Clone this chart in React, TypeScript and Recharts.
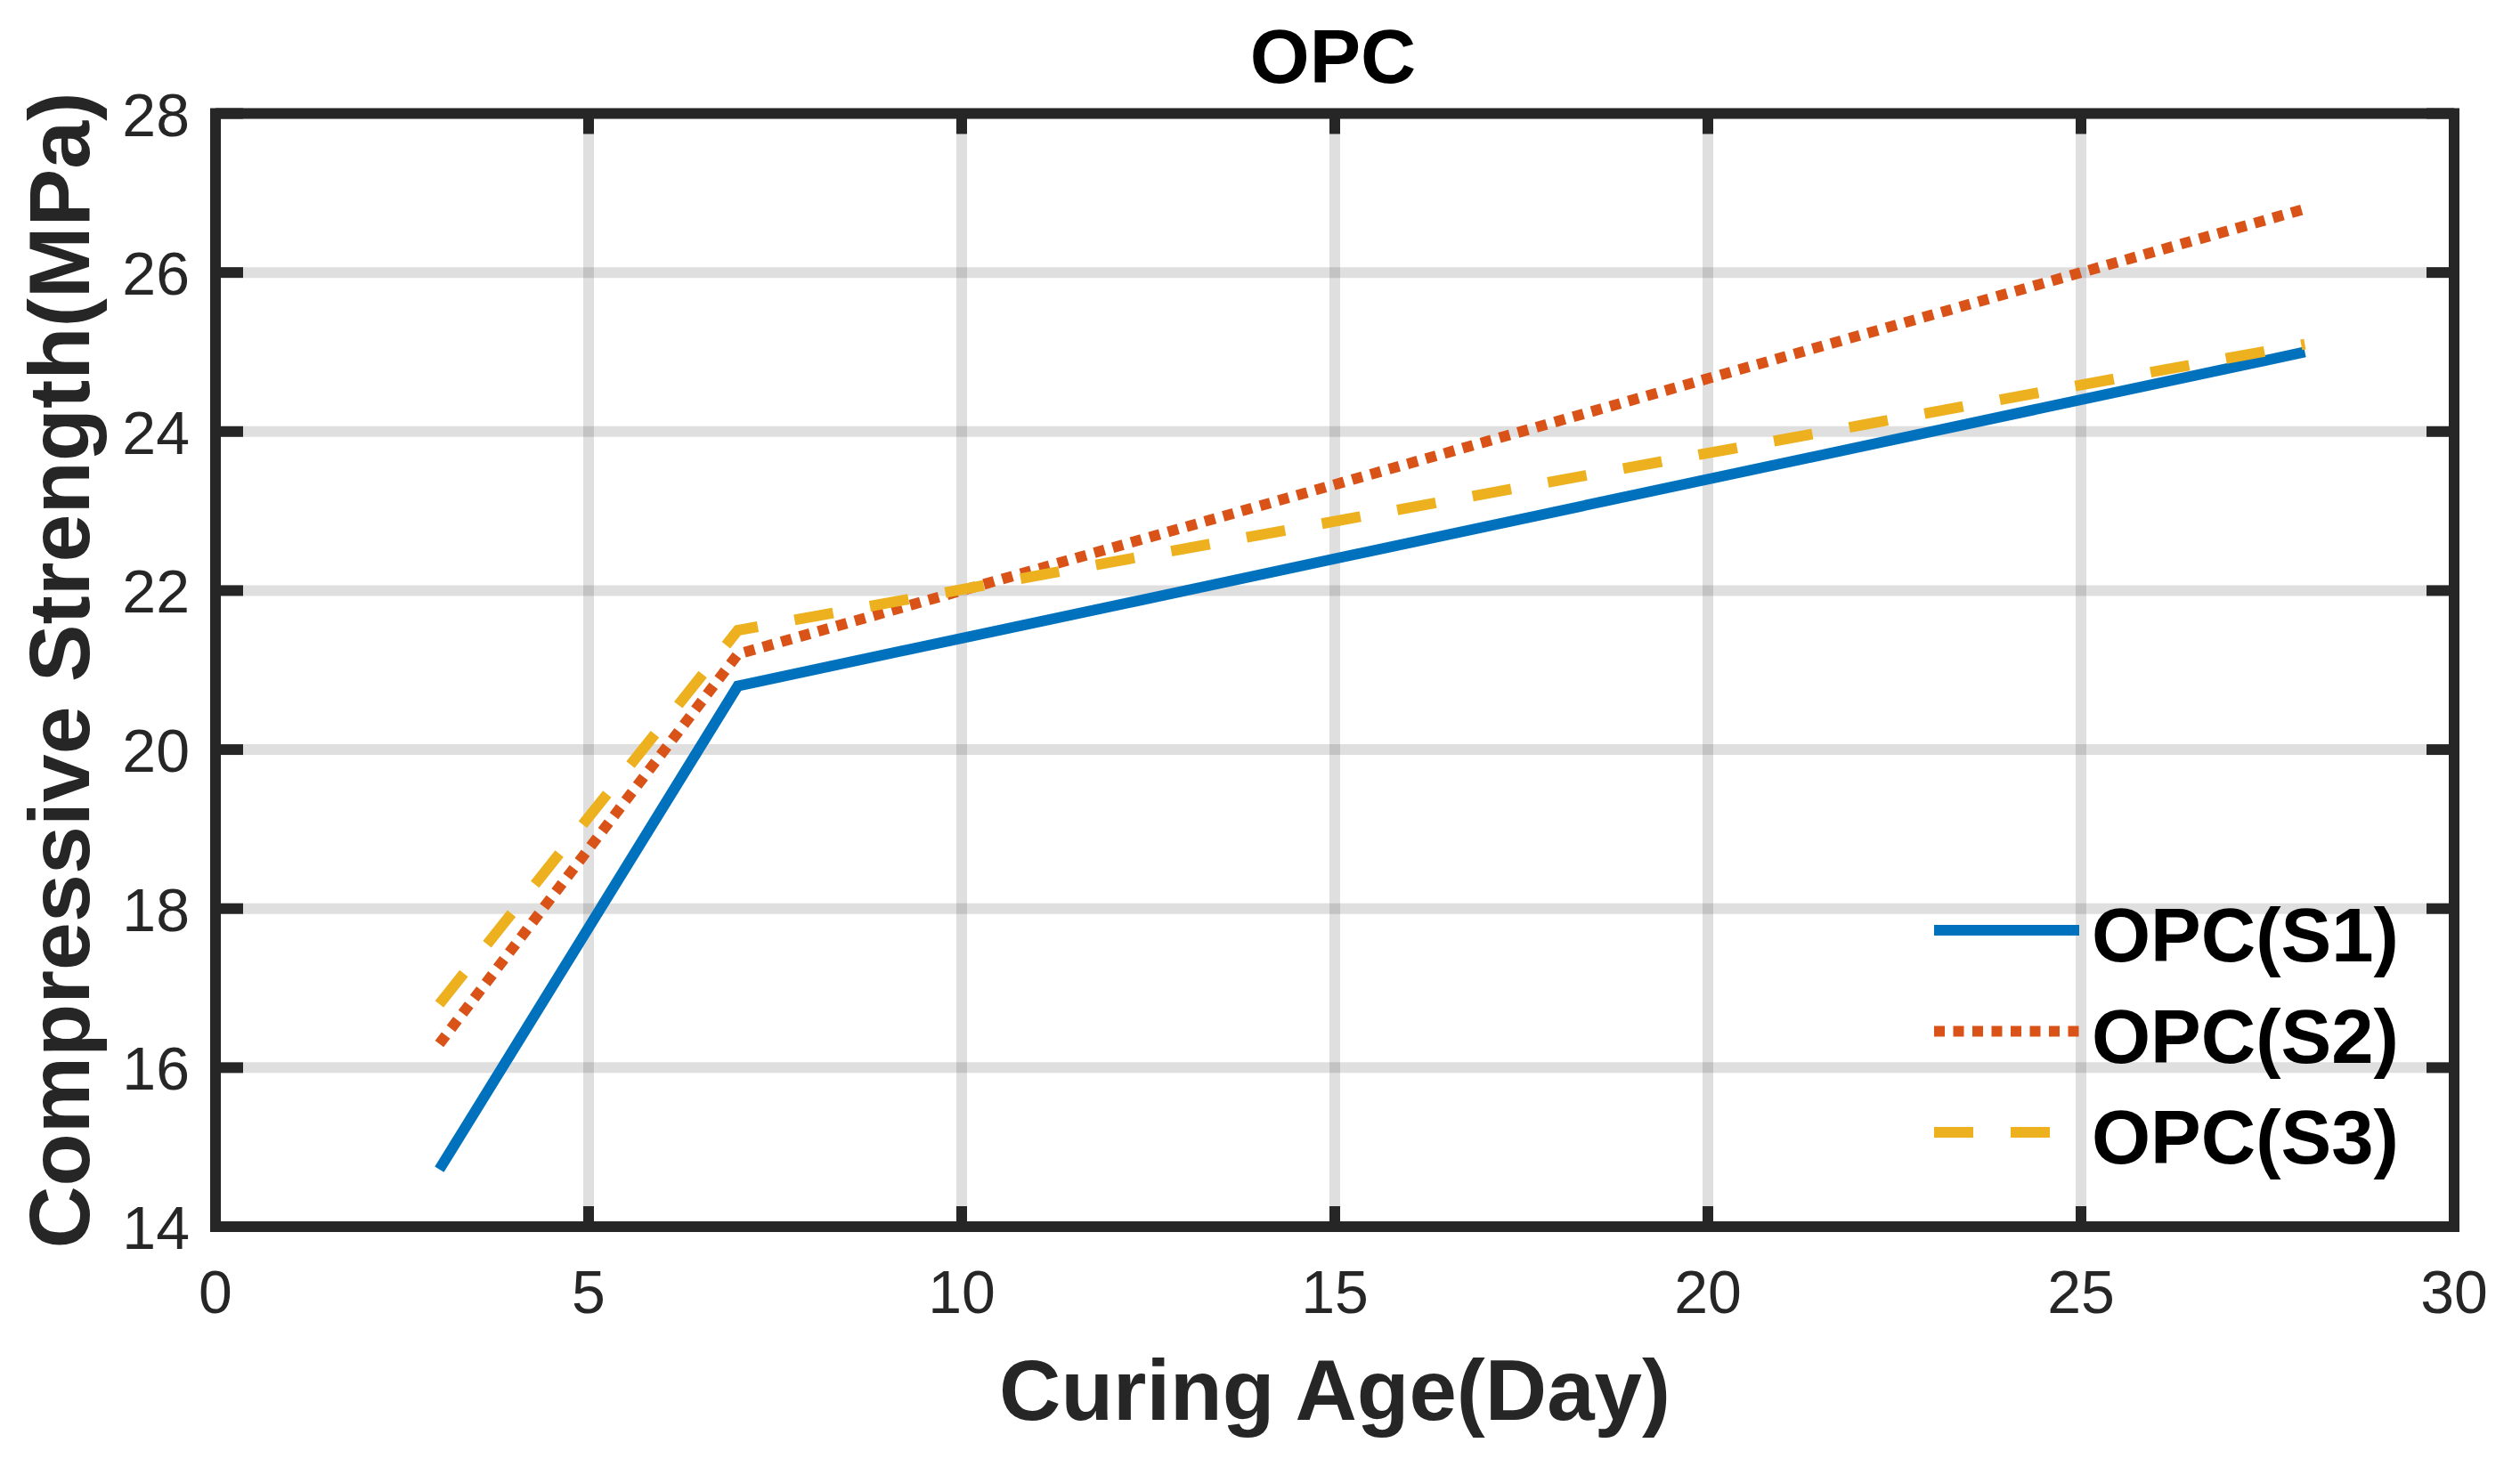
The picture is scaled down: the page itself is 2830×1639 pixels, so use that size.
import React from 'react';
import {
  LineChart,
  Line,
  XAxis,
  YAxis,
  CartesianGrid,
  ReferenceArea,
  Legend,
} from 'recharts';

// ---------- data ----------
const days = [3, 7, 28];
const s1Values = [14.72, 20.8, 25.0];
const s2Values = [16.3, 21.2, 26.8];
const s3Values = [16.8, 21.5, 25.1];

const seriesKeys = ['s1', 's2', 's3'];
const seriesNames = ['OPC(S1)', 'OPC(S2)', 'OPC(S3)'];
const seriesColors = ['#0072BD', '#D95319', '#EDB120'];
const seriesDash = [undefined, '12 9.5', '44 42'];

const xTicks = [0, 5, 10, 15, 20, 25, 30];
const yTicks = [14, 16, 18, 20, 22, 24, 26, 28];
const xDomain = [0, 30];
const yDomain = [14, 28];

const chartTitle = 'OPC';
const xLabel = 'Curing Age(Day)';
const yLabel = 'Compressive Strength(MPa)';

const data = days.map((d, i) => ({
  day: d,
  s1: s1Values[i],
  s2: s2Values[i],
  s3: s3Values[i],
}));

// ---------- layout / style ----------
const W = 2830;
const H = 1639;
const PLOT_LEFT = 242;
const PLOT_RIGHT = 2756;
const PLOT_TOP = 127.5;
const PLOT_BOTTOM = 1378;
const Y_AXIS_W = 100;
const X_AXIS_H = 100;
const AXIS_COLOR = '#262626';
const FONT = "'Liberation Sans', Arial, Helvetica, sans-serif";
const X_TICK_LEN = 23;
const Y_TICK_LEN = 31;

const XTick = (props: any) => {
  const { x, y, payload } = props;
  return (
    <g>
      <line x1={x} y1={y} x2={x} y2={y - X_TICK_LEN} stroke={AXIS_COLOR} strokeWidth={12} />
      <line x1={x} y1={PLOT_TOP} x2={x} y2={PLOT_TOP + X_TICK_LEN} stroke={AXIS_COLOR} strokeWidth={12} />
      <text x={x} y={y + 97} textAnchor="middle" fontSize={68} fill={AXIS_COLOR} fontFamily={FONT}>
        {payload.value}
      </text>
    </g>
  );
};

const YTick = (props: any) => {
  const { x, y, payload } = props;
  return (
    <g>
      <line x1={x} y1={y} x2={x + Y_TICK_LEN} y2={y} stroke={AXIS_COLOR} strokeWidth={12} />
      <line x1={PLOT_RIGHT} y1={y} x2={PLOT_RIGHT - Y_TICK_LEN} y2={y} stroke={AXIS_COLOR} strokeWidth={12} />
      <text x={x - 29} y={y + 25} textAnchor="end" fontSize={68} fill={AXIS_COLOR} fontFamily={FONT}>
        {payload.value}
      </text>
    </g>
  );
};

const LEG_LEFT = 2160;
const LEG_TOP = 990;

const renderLegend = (props: any) => {
  const items = (props && props.payload) || [];
  return (
    <svg width={640} height={330} style={{ overflow: 'visible', display: 'block' }}>
      {items.map((it: any, i: number) => {
        const idx = Math.max(0, seriesKeys.indexOf(it.dataKey));
        const ly = 55 + i * 113.5;
        return (
          <g key={i}>
            <line
              x1={12}
              y1={ly}
              x2={175}
              y2={ly}
              stroke={it.color || seriesColors[idx]}
              strokeWidth={12}
              strokeDasharray={seriesDash[idx]}
            />
            <text x={189} y={ly + 35} fontSize={85} fontWeight="bold" fill="#000" fontFamily={FONT}>
              {it.value || seriesNames[idx]}
            </text>
          </g>
        );
      })}
    </svg>
  );
};

export default function App() {
  return (
    <div style={{ position: 'absolute', left: 0, top: 0, width: W, height: H, background: '#fff' }}>
      <LineChart
        width={W}
        height={H}
        data={data}
        margin={{
          left: PLOT_LEFT - Y_AXIS_W,
          right: W - PLOT_RIGHT,
          top: PLOT_TOP,
          bottom: H - PLOT_BOTTOM - X_AXIS_H,
        }}
      >
        <CartesianGrid stroke="#000" strokeOpacity={0.125} strokeWidth={12} />
        <XAxis
          dataKey="day"
          type="number"
          domain={xDomain}
          ticks={xTicks}
          interval={0}
          height={X_AXIS_H}
          axisLine={false}
          tickLine={false}
          tickSize={0}
          tickMargin={0}
          tick={<XTick />}
        />
        <YAxis
          type="number"
          domain={yDomain}
          ticks={yTicks}
          interval={0}
          width={Y_AXIS_W}
          axisLine={false}
          tickLine={false}
          tickSize={0}
          tickMargin={0}
          tick={<YTick />}
        />
        <ReferenceArea
          x1={xDomain[0]}
          x2={xDomain[1]}
          y1={yDomain[0]}
          y2={yDomain[1]}
          fill="none"
          fillOpacity={0}
          stroke={AXIS_COLOR}
          strokeWidth={12}
          strokeOpacity={1}
        />
        {seriesKeys.map((k, i) => (
          <Line
            key={k}
            type="linear"
            dataKey={k}
            name={seriesNames[i]}
            stroke={seriesColors[i]}
            strokeWidth={12}
            strokeDasharray={seriesDash[i]}
            dot={false}
            activeDot={false}
            isAnimationActive={false}
          />
        ))}
        <Legend
          layout="vertical"
          align="center"
          verticalAlign="middle"
          wrapperStyle={{ left: LEG_LEFT, top: LEG_TOP, width: 640, height: 330 }}
          content={renderLegend}
        />
      </LineChart>
      <svg
        width={W}
        height={H}
        style={{ position: 'absolute', left: 0, top: 0, pointerEvents: 'none' }}
      >
        <text x={1497} y={93} textAnchor="middle" fontSize={86} fontWeight="bold" fill="#000" fontFamily={FONT}>
          {chartTitle}
        </text>
        <text x={1499} y={1595} textAnchor="middle" fontSize={96} fontWeight="bold" fill={AXIS_COLOR} fontFamily={FONT}>
          {xLabel}
        </text>
        <text
          x={100}
          y={753}
          transform="rotate(-90 100 753)"
          textAnchor="middle"
          fontSize={97}
          fontWeight="bold"
          fill={AXIS_COLOR}
          fontFamily={FONT}
        >
          {yLabel}
        </text>
      </svg>
    </div>
  );
}
